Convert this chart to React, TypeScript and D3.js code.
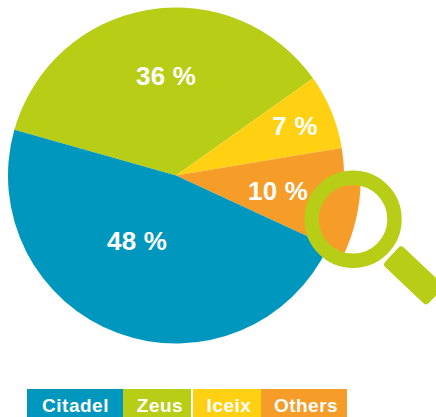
import React from "react";
import * as d3 from "d3";

const categories = ["Zeus", "Iceix", "Others", "Citadel"];
const sliceValues = [35.8, 7.2, 9.5, 47.5];
const sliceLabels = ["36 %", "7 %", "10 %", "48 %"];
const sliceColors = ["#B8CD16", "#FFD112", "#F59D28", "#0097BE"];
const labelPositions = [[166, 76], [295, 126], [278, 191], [137, 241]];

const legendNames = ["Citadel", "Zeus", "Iceix", "Others"];
const legendColors = ["#0097BE", "#B8CD16", "#FFD112", "#F59D28"];
const legendEdges = [[27, 123], [123, 191], [193, 261], [261, 347]];
const legendTextX = [75.5, 160, 229, 306];

const CX = 176, CY = 175.5, R = 168;
const START = (-74.2 * Math.PI) / 180;
const FONT = "'Liberation Sans', Arial, sans-serif";

export default function App() {
  const pie = d3.pie<number>().sort(null).startAngle(START).endAngle(START + 2 * Math.PI);
  const slices = pie(sliceValues);
  const arc = d3.arc<d3.PieArcDatum<number>>().innerRadius(0).outerRadius(R);
  const bigArc = d3.arc<d3.PieArcDatum<number>>().innerRadius(0).outerRadius(185);
  return (
    <svg width={436} height={417} style={{ position: "absolute", left: 0, top: 0 }}>
      <defs>
        <clipPath id="lens"><circle cx={353} cy={219.3} r={35} /></clipPath>
      </defs>
      <g transform={`translate(${CX},${CY})`}>
        {slices.map((s, i) => (
          <path key={categories[i]} d={arc(s) as string} fill={sliceColors[i]} />
        ))}
      </g>
      {labelPositions.map((p, i) => (
        <text key={i} x={p[0]} y={p[1]} textAnchor="middle" dominantBaseline="central"
          fontFamily={FONT} fontWeight="bold" fontSize={26} letterSpacing={0.2} fill="#fff">{sliceLabels[i]}</text>
      ))}
      <circle cx={353} cy={219.3} r={35} fill="#fff" />
      <g clipPath="url(#lens)">
        <path transform="translate(175.6,177.6)" d={bigArc(slices[2]) as string} fill={sliceColors[2]} />
      </g>
      <circle cx={353} cy={219.3} r={41.5} fill="none" stroke="#B8CD16" strokeWidth={14.4} />
      <rect x={-30} y={-13.5} width={60} height={27} rx={4} fill="#B8CD16"
        transform="translate(413.6,275.4) rotate(43.5)" />
      {legendNames.map((n, i) => (
        <g key={n}>
          <rect x={legendEdges[i][0]} y={389} width={legendEdges[i][1] - legendEdges[i][0]} height={28} fill={legendColors[i]} />
          <text x={legendTextX[i]} y={405} textAnchor="middle" dominantBaseline="central"
            fontFamily={FONT} fontWeight="bold" fontSize={19} letterSpacing={0.5} fill="#fff">{n}</text>
        </g>
      ))}
    </svg>
  );
}
